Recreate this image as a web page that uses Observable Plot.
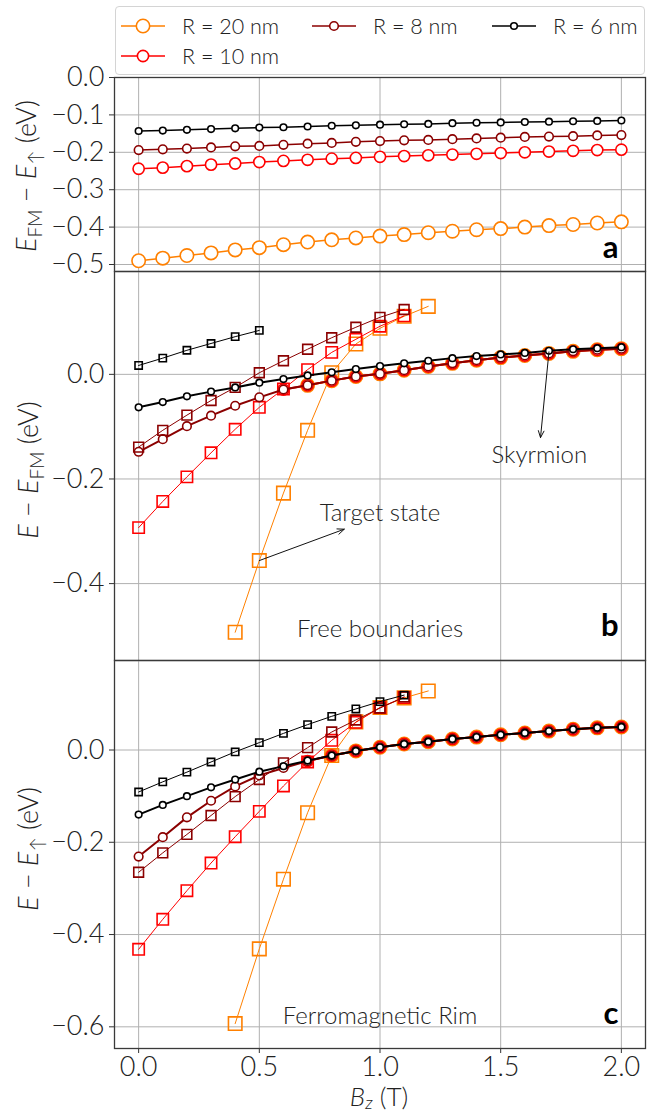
<!DOCTYPE html>
<html><head><meta charset="utf-8">
<script src="https://cdn.jsdelivr.net/npm/d3@7"></script>
<script src="https://cdn.jsdelivr.net/npm/@observablehq/plot@0.6"></script>
<style>
body{margin:0;background:#fff;}
#wrap{position:relative;width:654px;height:1113px;font-family:Lato,sans-serif;}
.panel{position:absolute;left:0;}
#legend{position:absolute;left:115px;top:6px;width:530px;height:69px;border:1px solid #d4d4d4;border-radius:4px;background:rgba(255,255,255,0.85);box-sizing:border-box;z-index:5;}
.item{position:absolute;height:24px;display:flex;align-items:center;font-size:21.5px;font-weight:300;color:#222;z-index:6;white-space:nowrap;}
.item svg{margin-right:17px;}
</style></head>
<body><div id="wrap"></div>
<script>
// ---------- data ----------
const Bz = [0.0,0.1,0.2,0.3,0.4,0.5,0.6,0.7,0.8,0.9,1.0,1.1,1.2,1.3,1.4,1.5,1.6,1.7,1.8,1.9,2.0];
const seriesKeys = ["R20","R10","R8","R6"];
const seriesLabels = {R20:"R = 20 nm", R10:"R = 10 nm", R8:"R = 8 nm", R6:"R = 6 nm"};
const seriesColors = {R20:"#ff8000", R10:"#ff0000", R8:"#8b0000", R6:"#000000"};

// panel a: E_FM - E_up
const fmR20 = [-0.490,-0.483,-0.476,-0.469,-0.461,-0.455,-0.447,-0.440,-0.434,-0.429,-0.424,-0.420,-0.415,-0.411,-0.407,-0.404,-0.400,-0.396,-0.393,-0.389,-0.386];
const fmR10 = [-0.244,-0.241,-0.237,-0.233,-0.230,-0.226,-0.223,-0.220,-0.217,-0.215,-0.212,-0.210,-0.208,-0.206,-0.204,-0.202,-0.200,-0.198,-0.196,-0.194,-0.193];
const fmR8  = [-0.194,-0.192,-0.190,-0.187,-0.184,-0.183,-0.180,-0.177,-0.175,-0.172,-0.170,-0.168,-0.167,-0.165,-0.163,-0.161,-0.159,-0.158,-0.157,-0.155,-0.154];
const fmR6  = [-0.143,-0.142,-0.140,-0.138,-0.136,-0.134,-0.133,-0.131,-0.129,-0.128,-0.126,-0.125,-0.124,-0.122,-0.121,-0.120,-0.119,-0.118,-0.117,-0.116,-0.115];

// panel b: free boundaries, E - E_FM
const skyB_R20_x = Bz.slice(7);
const skyB_R20 = [-0.021,-0.012,-0.004,0.001,0.008,0.015,0.021,0.027,0.032,0.036,0.040,0.044,0.047,0.049];
const skyB_R10_x = Bz.slice(6);
const skyB_R10 = [-0.029,-0.021,-0.012,-0.004,0.001,0.008,0.015,0.021,0.027,0.032,0.036,0.040,0.044,0.047,0.049];
const skyB_R8 = [-0.148,-0.124,-0.099,-0.079,-0.060,-0.044,-0.029,-0.021,-0.012,-0.004,0.001,0.008,0.015,0.021,0.027,0.032,0.036,0.040,0.044,0.047,0.049];
const skyB_R6 = [-0.063,-0.053,-0.042,-0.033,-0.025,-0.016,-0.009,-0.002,0.004,0.010,0.016,0.021,0.026,0.031,0.035,0.038,0.041,0.045,0.048,0.050,0.052];
const tgtB_R20_x = [0.4,0.5,0.6,0.7,0.8,0.9,1.0,1.1,1.2];
const tgtB_R20 = [-0.493,-0.356,-0.227,-0.107,0.003,0.058,0.088,0.111,0.130];
const tgtB_R10_x = Bz.slice(0,12);
const tgtB_R10 = [-0.293,-0.243,-0.196,-0.150,-0.105,-0.063,-0.028,0.009,0.042,0.067,0.092,0.112];
const tgtB_R8_x = Bz.slice(0,12);
const tgtB_R8 = [-0.139,-0.107,-0.078,-0.050,-0.025,0.003,0.026,0.048,0.070,0.090,0.109,0.124];
const tgtB_R6_x = Bz.slice(0,6);
const tgtB_R6 = [0.017,0.031,0.046,0.059,0.072,0.084];

// panel c: ferromagnetic rim, E - E_up
const skyC_R20_x = Bz.slice(8);
const skyC_R20 = [-0.012,-0.002,0.006,0.013,0.018,0.024,0.028,0.033,0.037,0.041,0.045,0.048,0.050];
const skyC_R10_x = Bz.slice(7);
const skyC_R10 = [-0.024,-0.012,-0.002,0.006,0.013,0.018,0.024,0.028,0.033,0.037,0.041,0.045,0.048,0.050];
const skyC_R8 = [-0.231,-0.189,-0.146,-0.110,-0.079,-0.055,-0.039,-0.024,-0.012,-0.002,0.006,0.013,0.018,0.024,0.028,0.033,0.037,0.041,0.045,0.048,0.050];
const skyC_R6 = [-0.140,-0.119,-0.100,-0.081,-0.064,-0.047,-0.035,-0.023,-0.012,-0.002,0.006,0.013,0.018,0.024,0.028,0.033,0.037,0.041,0.045,0.048,0.050];
const tgtC_R20_x = [0.4,0.5,0.6,0.7,0.8,0.9,1.0,1.1,1.2];
const tgtC_R20 = [-0.593,-0.431,-0.280,-0.136,-0.012,0.061,0.092,0.113,0.128];
const tgtC_R10_x = Bz.slice(0,12);
const tgtC_R10 = [-0.432,-0.367,-0.305,-0.245,-0.188,-0.133,-0.078,-0.026,0.021,0.060,0.092,0.114];
const tgtC_R8_x = Bz.slice(0,12);
const tgtC_R8 = [-0.265,-0.223,-0.183,-0.142,-0.101,-0.064,-0.028,0.005,0.039,0.065,0.091,0.115];
const tgtC_R6_x = Bz.slice(0,12);
const tgtC_R6 = [-0.091,-0.069,-0.048,-0.026,-0.004,0.016,0.036,0.055,0.073,0.089,0.105,0.119];

// ticks
const xTicks = [0.0,0.5,1.0,1.5,2.0];
const yTicksA = [0.0,-0.1,-0.2,-0.3,-0.4,-0.5];
const yTicksB = [0.0,-0.2,-0.4];
const yTicksC = [0.0,-0.2,-0.4,-0.6];

// annotations
const annoB_text = ["Skyrmion","Target state","Free boundaries"];
const annoB_x = [1.66, 1.0, 1.0];
const annoB_y = [-0.155, -0.266, -0.488];
const annoC_text = ["Ferromagnetic Rim"];
const annoC_x = [1.0];
const annoC_y = [-0.578];
const arrowsB = [
  {x1:1.70, y1:0.043, x2:1.665, y2:-0.121},
  {x1:0.50, y1:-0.356, x2:0.852, y2:-0.296}
];

// ---------- styling ----------
const circleR = {R20:6.7, R10:5.6, R8:4.3, R6:3.3};
const squareR = {R20:7.6, R10:6.4, R8:5.5, R6:4.1};

function table(xs, ys){ return xs.map((x,i)=>({x, y:ys[i]})); }

function circleSeries(key, xs, ys, lw){
  const d = table(xs, ys);
  return [
    Plot.line(d, {x:"x", y:"y", stroke:seriesColors[key], strokeWidth:lw}),
    Plot.dot(d, {x:"x", y:"y", r:circleR[key], fill:"white", stroke:seriesColors[key], strokeWidth:1.6})
  ];
}
function squareSeries(key, xs, ys){
  const d = table(xs, ys);
  return [
    Plot.line(d, {x:"x", y:"y", stroke:seriesColors[key], strokeWidth:1}),
    Plot.dot(d, {x:"x", y:"y", r:squareR[key], symbol:"square", fill:"none", stroke:seriesColors[key], strokeWidth:1.6})
  ];
}

const W = 654, ML = 114, MR = 9;
const TICK_FS = 27;
const gridStyle = {stroke:"#b0b0b0", strokeOpacity:1, strokeWidth:1};
const baseStyle = {fontFamily:"Lato, sans-serif", fontSize:TICK_FS+"px", fontWeight:300, color:"#222", background:"transparent", overflow:"visible"};
const fmt = d3.format(".1f");

function commonMarks(yTicks){
  return [
    Plot.gridX(xTicks, gridStyle),
    Plot.gridY(yTicks, gridStyle),
    Plot.axisY(yTicks, {tickFormat:fmt, tickSize:5, tickPadding:5, fontSize:TICK_FS, fontWeight:300, label:null, stroke:"#333"})
  ];
}

// ---------- panel a ----------
const plotA = Plot.plot({
  width:W, height:271, marginLeft:ML, marginRight:MR, marginTop:77, marginBottom:0,
  x:{domain:[-0.1,2.1], axis:null}, y:{domain:[-0.5187,0], axis:null},
  style:baseStyle,
  marks:[
    ...commonMarks(yTicksA),
    ...circleSeries("R20", Bz, fmR20, 1.5),
    ...circleSeries("R10", Bz, fmR10, 1.5),
    ...circleSeries("R8", Bz, fmR8, 1.5),
    ...circleSeries("R6", Bz, fmR6, 1.5),
    Plot.text(["a"], {frameAnchor:"bottom-right", dx:-27, dy:-14, lineAnchor:"bottom", fontSize:31, fontWeight:"bold", fill:"#000"}),
    Plot.frame({stroke:"#3a3a3a", strokeWidth:1.3})
  ]
});

// ---------- panel b ----------
const plotB = Plot.plot({
  width:W, height:389, marginLeft:ML, marginRight:MR, marginTop:0, marginBottom:0,
  x:{domain:[-0.1,2.1], axis:null}, y:{domain:[-0.547,0.1966], axis:null},
  style:baseStyle,
  marks:[
    ...commonMarks(yTicksB),
    ...circleSeries("R20", skyB_R20_x, skyB_R20, 2),
    ...squareSeries("R20", tgtB_R20_x, tgtB_R20),
    ...circleSeries("R10", skyB_R10_x, skyB_R10, 2),
    ...squareSeries("R10", tgtB_R10_x, tgtB_R10),
    ...circleSeries("R8", Bz, skyB_R8, 2),
    ...squareSeries("R8", tgtB_R8_x, tgtB_R8),
    ...circleSeries("R6", Bz, skyB_R6, 2),
    ...squareSeries("R6", tgtB_R6_x, tgtB_R6),
    Plot.arrow(arrowsB, {x1:"x1", y1:"y1", x2:"x2", y2:"y2", stroke:"#111", strokeWidth:1, headLength:11, headAngle:45}),
    Plot.text(annoB_text, {x:(d,i)=>annoB_x[i], y:(d,i)=>annoB_y[i], text:d=>d, fontSize:24, fontWeight:300, fill:"#222", textAnchor:"middle", lineAnchor:"middle"}),
    Plot.text(["b"], {frameAnchor:"bottom-right", dx:-27, dy:-25, lineAnchor:"bottom", fontSize:31, fontWeight:"bold", fill:"#000"}),
    Plot.frame({stroke:"#3a3a3a", strokeWidth:1.3})
  ]
});

// ---------- panel c ----------
const plotC = Plot.plot({
  width:W, height:453, marginLeft:ML, marginRight:MR, marginTop:0, marginBottom:65,
  x:{domain:[-0.1,2.1], axis:null}, y:{domain:[-0.647,0.194], axis:null},
  style:baseStyle,
  marks:[
    ...commonMarks(yTicksC),
    Plot.axisX(xTicks, {tickFormat:fmt, tickSize:5, tickPadding:3, fontSize:TICK_FS, fontWeight:300, label:null, stroke:"#333"}),
    ...circleSeries("R20", skyC_R20_x, skyC_R20, 2),
    ...squareSeries("R20", tgtC_R20_x, tgtC_R20),
    ...circleSeries("R10", skyC_R10_x, skyC_R10, 2),
    ...squareSeries("R10", tgtC_R10_x, tgtC_R10),
    ...circleSeries("R8", Bz, skyC_R8, 2),
    ...squareSeries("R8", tgtC_R8_x, tgtC_R8),
    ...circleSeries("R6", Bz, skyC_R6, 2),
    ...squareSeries("R6", tgtC_R6_x, tgtC_R6),
    Plot.text(annoC_text, {x:(d,i)=>annoC_x[i], y:(d,i)=>annoC_y[i], text:d=>d, fontSize:24, fontWeight:300, fill:"#222", textAnchor:"middle", lineAnchor:"middle"}),
    Plot.text(["c"], {frameAnchor:"bottom-right", dx:-27, dy:-25, lineAnchor:"bottom", fontSize:31, fontWeight:"bold", fill:"#000"}),
    Plot.frame({stroke:"#3a3a3a", strokeWidth:1.3})
  ]
});

const wrap = document.getElementById("wrap");
[[plotA,0],[plotB,271],[plotC,660]].forEach(([p,top])=>{
  p.classList.add("panel"); p.style.top = top+"px"; wrap.appendChild(p);
});

// rich-text axis labels
function richLabel(svg, x, y, rotate, parts, size, shift){
  const t = d3.select(svg).append("text")
    .attr("transform", `translate(${x},${y})` + (rotate ? " rotate(-90)" : ""))
    .attr("text-anchor","middle").attr("font-size",size).attr("font-weight",300)
    .attr("fill","#222").attr("font-family","Lato, sans-serif");
  let shifted = 0;
  parts.forEach(([txt, kind])=>{
    const s = t.append("tspan").text(txt);
    if (kind.includes("i")) s.attr("font-style","italic");
    if (kind.includes("s")) {
      s.attr("font-size", size*0.7);
      if (shifted === 0) { s.attr("dy", size*shift); shifted = size*shift; }
    } else if (shifted) { s.attr("dy", -shifted); shifted = 0; }
  });
}
richLabel(plotA, 36, 176, true, [["E","i"],["FM","s"],[" − ",""],["E","i"],["↑","s"],[" (eV)",""]], 27, 0.22);
richLabel(plotB, 38, 199, true, [["E","i"],[" − ",""],["E","i"],["FM","s"],[" (eV)",""]], 27, 0.22);
richLabel(plotC, 38, 189, true, [["E","i"],[" − ",""],["E","i"],["↑","s"],[" (eV)",""]], 27, 0.22);
richLabel(plotC, 379, 446, false, [["B","i"],["z","is"],[" (T)",""]], 26, 0.1);

// legend
const legend = document.createElement("div"); legend.id = "legend"; wrap.appendChild(legend);
const legendItems = [
  {key:"R20", left:121, top:14},
  {key:"R8", left:312, top:14},
  {key:"R6", left:492, top:14},
  {key:"R10", left:121, top:44}
];
legendItems.forEach(it=>{
  const div = document.createElement("div"); div.className = "item";
  div.style.left = it.left+"px"; div.style.top = it.top+"px";
  const c = seriesColors[it.key];
  div.innerHTML = `<svg width="44" height="20"><line x1="0" y1="10" x2="44" y2="10" stroke="${c}" stroke-width="1.6"/><circle cx="22" cy="10" r="${circleR[it.key]}" fill="white" stroke="${c}" stroke-width="1.6"/></svg><span>${seriesLabels[it.key]}</span>`;
  wrap.appendChild(div);
});
</script>
</body></html>
